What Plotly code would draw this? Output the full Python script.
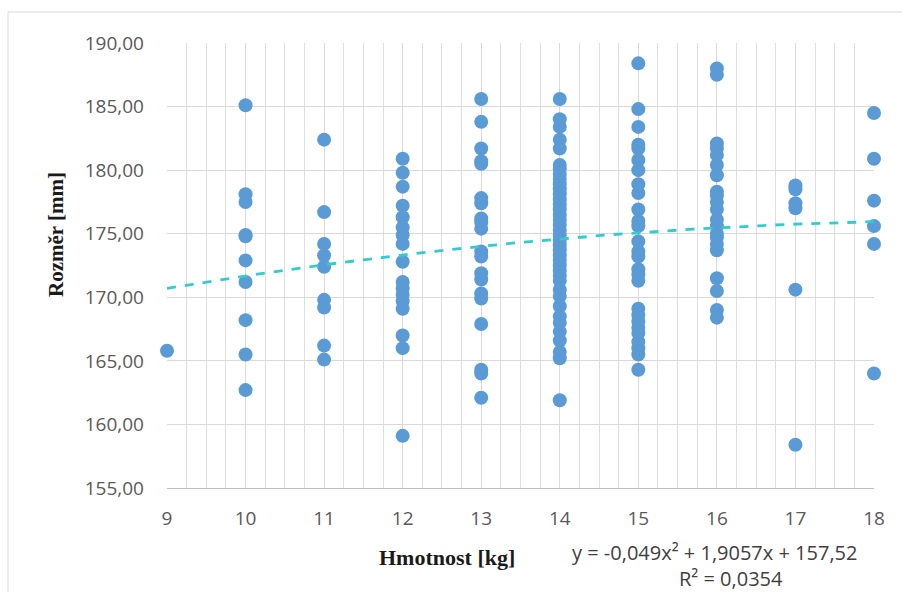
import plotly.graph_objects as go

# Data: weight [kg] -> size [mm]
x9 = [165.8]
x10 = [185.1, 178.1, 177.5, 174.9, 174.8, 172.9, 171.2, 168.2, 165.5, 162.7]
x11 = [182.4, 176.7, 174.2, 173.3, 172.4, 169.8, 169.2, 166.2, 165.1]
x12 = [180.9, 179.8, 178.7, 177.2, 176.3, 175.5, 174.9, 174.2, 172.8, 171.2,
       170.7, 170.2, 169.7, 169.1, 167.0, 166.0, 159.1]
x13 = [185.6, 183.8, 181.7, 180.7, 180.5, 177.8, 177.4, 176.2, 175.9, 175.4,
       173.6, 173.2, 171.9, 171.4, 170.3, 169.9, 167.9, 164.3, 164.0, 162.1]
x14 = [185.6, 184.0, 183.4, 182.4, 181.7, 180.4, 180.1, 179.7, 179.3, 178.9,
       178.5, 178.1, 177.7, 177.3, 176.9, 176.5, 176.1, 175.7, 175.3, 174.9,
       174.5, 174.1, 173.7, 173.3, 172.9, 172.5, 172.1, 171.7, 171.3, 170.6,
       170.1, 169.3, 168.5, 168.0, 167.3, 166.6, 165.7, 165.2, 161.9]
x15 = [188.4, 184.8, 183.4, 182.0, 181.7, 180.8, 180.0, 178.9, 178.2, 176.9,
       176.0, 175.6, 174.4, 173.6, 173.2, 172.2, 171.8, 171.3, 169.1, 168.6,
       168.1, 167.6, 167.2, 166.5, 166.0, 165.5, 164.3]
x16 = [188.0, 187.5, 182.1, 181.7, 181.2, 180.4, 179.6, 178.3, 178.0, 177.5,
       176.9, 176.1, 175.6, 175.0, 174.7, 174.2, 173.7, 171.5, 170.5, 169.0, 168.4]
x17 = [178.8, 178.5, 177.4, 177.0, 170.6, 158.4]
x18 = [184.5, 180.9, 177.6, 175.6, 174.2, 164.0]

groups = {9: x9, 10: x10, 11: x11, 12: x12, 13: x13, 14: x14,
          15: x15, 16: x16, 17: x17, 18: x18}
weights = []
sizes = []
for k, vals in groups.items():
    weights += [k] * len(vals)
    sizes += vals

# Trendline coefficients (polynomial, order 2)
coef_a, coef_b, coef_c = -0.049, 1.9057, 157.52
trend_x = [9 + i * 0.05 for i in range(181)]
trend_y = [coef_a * t * t + coef_b * t + coef_c for t in trend_x]

x_ticks = [9, 10, 11, 12, 13, 14, 15, 16, 17, 18]
y_ticks = [155, 160, 165, 170, 175, 180, 185, 190]

W, H = 902, 592
L, R, T, B = 167, 874, 43, 488
pw, ph = R - L, B - T


def px(xp):
    return (xp - L) / pw


def py(yp):
    return (B - yp) / ph


fig = go.Figure()
# markers first, trendline drawn above them as in the reference
fig.add_trace(go.Scatter(
    x=weights, y=sizes, mode="markers",
    marker=dict(color="#5B9BD5", size=14, line=dict(width=0)),
    cliponaxis=False, hoverinfo="x+y", showlegend=False))
fig.add_trace(go.Scatter(
    x=trend_x, y=trend_y, mode="lines",
    line=dict(color="#33CCCC", width=2.8, dash="dash"),
    cliponaxis=False, showlegend=False))

fig.update_layout(
    width=W, height=H,
    margin=dict(l=L, r=W - R, t=T, b=H - B),
    paper_bgcolor="white", plot_bgcolor="white",
    separators=",.",
    font=dict(family="Open Sans, Lato, sans-serif", color="#595959", size=19),
    xaxis=dict(
        range=[9, 18], tickvals=x_ticks, ticktext=[str(v) for v in x_ticks],
        showgrid=True, gridcolor="#D9D9D9", gridwidth=1,
        minor=dict(dtick=0.25, showgrid=True, gridcolor="#DEDEDE", gridwidth=1),
        showline=True, linecolor="#BFBFBF", linewidth=1,
        zeroline=False, ticks="", ticklabelstandoff=13,
        tickfont=dict(size=19, color="#595959"),
    ),
    yaxis=dict(
        range=[155, 190], tickvals=y_ticks, tickformat=".2f",
        showgrid=True, gridcolor="#D9D9D9", gridwidth=1,
        showline=False, zeroline=False, ticks="", ticklabelstandoff=22,
        tickfont=dict(size=19, color="#595959"),
    ),
    shapes=[dict(type="rect", xref="paper", yref="paper",
                 x0=px(8), x1=px(905), y0=py(600), y1=py(12),
                 line=dict(color="#D9D9D9", width=1), fillcolor="rgba(0,0,0,0)",
                 layer="below")],
    annotations=[
        dict(text="<b>Hmotnost [kg]</b>", xref="paper", yref="paper",
             x=px(447), y=py(557), showarrow=False, xanchor="center", yanchor="middle",
             font=dict(family="Liberation Serif, Times New Roman, serif", size=22, color="#1a1a1a")),
        dict(text="<b>Rozměr [mm]</b>", xref="paper", yref="paper",
             x=px(56), y=py(235), showarrow=False, xanchor="center", yanchor="middle",
             textangle=-90,
             font=dict(family="Liberation Serif, Times New Roman, serif", size=21, color="#1a1a1a")),
        dict(text="y = -0,049x² + 1,9057x + 157,52", xref="paper", yref="paper",
             x=px(714), y=py(552), showarrow=False, xanchor="center", yanchor="middle",
             font=dict(family="Open Sans, Lato, sans-serif", size=20, color="#404040")),
        dict(text="R² = 0,0354", xref="paper", yref="paper",
             x=px(731), y=py(578), showarrow=False, xanchor="center", yanchor="middle",
             font=dict(family="Open Sans, Lato, sans-serif", size=20, color="#404040")),
    ],
)

fig.write_html("out.html")
